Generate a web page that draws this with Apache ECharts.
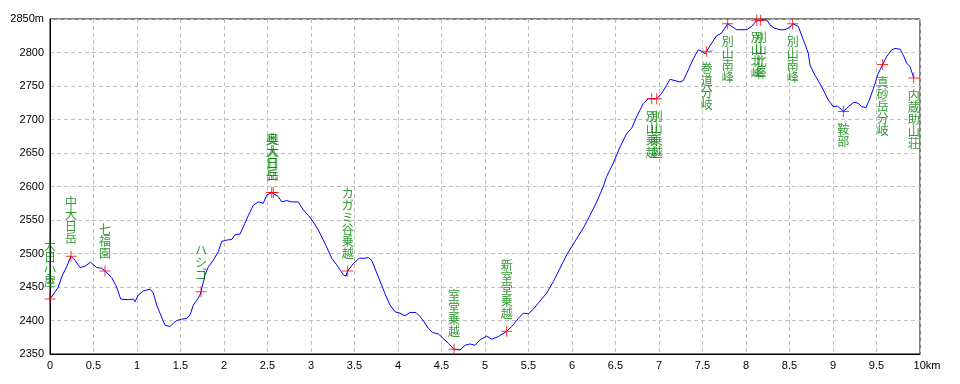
<!DOCTYPE html>
<html>
<head>
<meta charset="utf-8">
<script src="https://cdn.jsdelivr.net/npm/echarts@6/dist/echarts.min.js"></script>
<style>html,body{margin:0;padding:0;background:#fff}#c{width:960px;height:384px}</style>
</head>
<body>
<div id="c"></div>
<script>
// Elevation profile (km, m)
const profileKm = [0,0.096,0.134,0.19,0.241,0.287,0.345,0.4,0.467,0.536,0.594,0.632,0.709,0.766,0.812,0.9,0.958,0.977,1.015,1.073,1.149,1.188,1.226,1.264,1.322,1.379,1.418,1.456,1.513,1.571,1.609,1.648,1.686,1.724,1.736,1.782,1.82,1.877,1.935,1.973,2.03,2.09,2.126,2.184,2.24,2.28,2.337,2.394,2.452,2.49,2.548,2.567,2.624,2.663,2.72,2.777,2.854,2.912,2.969,3.027,3.084,3.161,3.238,3.295,3.372,3.402,3.421,3.487,3.556,3.621,3.659,3.697,3.774,3.851,3.908,3.966,4.023,4.08,4.138,4.207,4.253,4.299,4.349,4.399,4.464,4.521,4.579,4.644,4.713,4.77,4.828,4.885,4.943,5.02,5.077,5.153,5.249,5.307,5.383,5.44,5.498,5.556,5.613,5.709,5.785,5.862,5.939,6.034,6.13,6.207,6.284,6.36,6.398,6.437,6.475,6.513,6.552,6.628,6.686,6.743,6.82,6.877,6.916,6.973,7.03,7.088,7.126,7.184,7.241,7.28,7.337,7.395,7.452,7.49,7.529,7.548,7.605,7.663,7.72,7.789,7.835,7.893,8.008,8.065,8.123,8.169,8.238,8.276,8.333,8.391,8.448,8.506,8.536,8.601,8.659,8.716,8.736,8.793,8.87,8.946,9.004,9.05,9.08,9.119,9.176,9.241,9.291,9.33,9.379,9.418,9.464,9.521,9.571,9.617,9.674,9.713,9.77,9.808,9.847,9.885,9.928];
const profileElev = [2432,2450,2465,2480,2496,2490,2479,2481,2487,2479,2478,2474,2464,2450,2432,2431,2432,2428,2438,2444,2447,2441,2423,2411,2393,2391,2396,2400,2402,2403,2408,2423,2430,2438,2443,2468,2480,2490,2503,2518,2520,2521,2528,2529,2545,2557,2572,2577,2575,2587,2591,2591,2585,2577,2579,2577,2577,2565,2557,2547,2535,2515,2493,2483,2468,2466,2474,2485,2493,2493,2494,2490,2465,2440,2423,2413,2411,2407,2412,2412,2406,2398,2388,2382,2380,2373,2366,2357,2356,2363,2365,2363,2371,2377,2372,2376,2384,2391,2403,2411,2410,2417,2426,2441,2458,2478,2498,2518,2538,2557,2577,2600,2615,2625,2635,2647,2659,2679,2687,2704,2724,2731,2731,2731,2739,2751,2760,2758,2756,2758,2774,2791,2804,2802,2798,2802,2814,2825,2829,2843,2839,2834,2834,2839,2848,2848,2849,2841,2836,2834,2834,2838,2843,2839,2819,2799,2781,2766,2749,2729,2719,2720,2717,2712,2719,2726,2724,2719,2718,2729,2746,2769,2782,2794,2804,2806,2805,2796,2784,2779,2762];

// Waypoints
const wpNames = ['大日小屋','中大日岳','七福園','ハシゴ','奥大日岳','奥大日岳','カガミ谷乗越','室堂乗越','新室堂乗越','別山乗越','別山乗越','巻道分岐','別山南峰','別山北峰','別山北峰','別山南峰','鞍部','真砂岳分岐','内蔵助山荘'];
const wpKm =   [0,0.241,0.632,1.736,2.548,2.567,3.421,4.644,5.249,6.916,6.973,7.548,7.789,8.123,8.169,8.536,9.119,9.571,9.928];
const wpElev = [2432,2496,2474,2443,2591,2591,2474,2357,2384,2731,2731,2802,2843,2848,2848,2843,2712,2782,2762];

// Axes
const xMin = 0, xMax = 10, xStep = 0.5, xUnit = 'km';
const yMin = 2350, yMax = 2850, yStep = 50, yUnit = 'm';

const lineData = profileKm.map((k, i) => [k, profileElev[i]]);
const wpData = wpNames.map((n, i) => ({
  value: [wpKm[i], wpElev[i]],
  name: n,
  label: {position: wpElev[i] > 2650 ? 'bottom' : 'top'}
}));

const chart = echarts.init(document.getElementById('c'), null, {renderer: 'canvas'});
const tickFont = {color: '#000', fontFamily: 'Liberation Sans', fontSize: 11};
chart.setOption({
  animation: false,
  backgroundColor: '#fff',
  grid: {left: 50, right: 40, top: 19, bottom: 30, show: true, borderColor: '#000', borderWidth: 1, backgroundColor: 'transparent'},
  xAxis: {
    type: 'value', min: xMin, max: xMax, interval: xStep,
    axisLine: {show: true, lineStyle: {color: '#000', width: 1}},
    axisTick: {show: false},
    splitLine: {show: true, lineStyle: {color: '#c0c0c0', type: [4, 3], width: 1}},
    axisLabel: Object.assign({}, tickFont, {
      margin: 6,
      formatter: v => v === xMax ? '{u|' + v + xUnit + '}' : String(v),
      rich: {u: Object.assign({}, tickFont, {padding: [0, 0, 0, 14]})}
    })
  },
  yAxis: {
    type: 'value', min: yMin, max: yMax, interval: yStep,
    axisLine: {show: true, lineStyle: {color: '#000', width: 1}},
    axisTick: {show: false},
    splitLine: {show: true, lineStyle: {color: '#c0c0c0', type: [4, 3], width: 1}},
    axisLabel: Object.assign({}, tickFont, {
      margin: 6,
      formatter: v => v === yMax ? v + yUnit : String(v)
    })
  },
  series: [
    {
      type: 'line', data: lineData, showSymbol: false, smooth: false,
      lineStyle: {color: '#0000ff', width: 1}, clip: false, z: 2
    },
    {
      type: 'scatter', data: wpData, clip: false, z: 3,
      symbol: 'path://M0,5h11v1h-11z M5,0h1v11h-1z',
      symbolSize: 11,
      itemStyle: {color: '#ff0000'},
      label: {
        show: true, distance: 6,
        color: '#008000', fontFamily: 'Noto Sans CJK JP', fontSize: 12, lineHeight: 12,
        formatter: p => p.name.split('').join('\n')
      }
    }
  ]
});
</script>
</body>
</html>
